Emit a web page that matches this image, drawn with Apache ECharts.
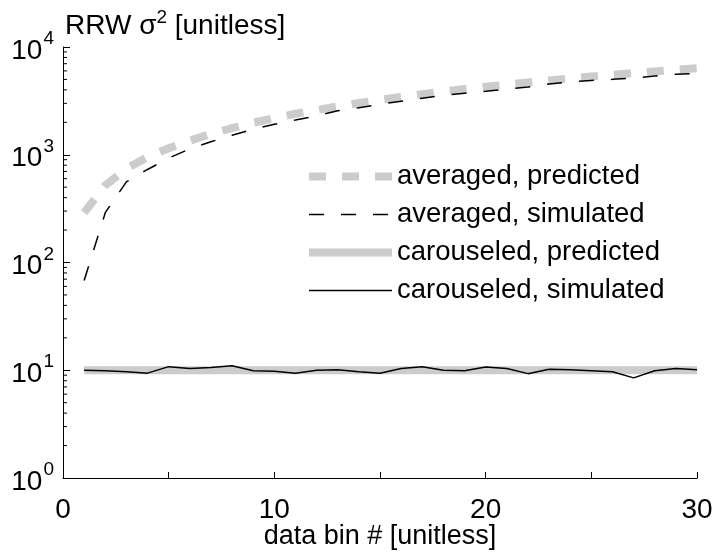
<!DOCTYPE html>
<html>
<head>
<meta charset="utf-8">
<script src="https://cdn.jsdelivr.net/npm/echarts@6/dist/echarts.min.js"></script>
<style>
html,body{margin:0;padding:0;background:#fff;}
#chart{width:714px;height:552px;}
</style>
</head>
<body>
<div id="chart"></div>
<script>
// ---- data ----
const bins = [1,2,3,4,5,6,7,8,9,10,11,12,13,14,15,16,17,18,19,20,21,22,23,24,25,26,27,28,29,30];
const averagedPredicted = [290,520,740,950,1150,1350,1560,1770,1980,2190,2400,2600,2810,3020,3230,3440,3650,3860,4070,4270,4480,4690,4900,5110,5320,5520,5730,5940,6150,6350];
const averagedSimulated = [68,290,560,730,930,1135,1320,1520,1720,1920,2100,2300,2560,2730,2940,3140,3350,3560,3730,3880,4080,4250,4540,4750,4890,5010,5150,5380,5580,5700];
const carouseledPredicted = [10,10,10,10,10,10,10,10,10,10,10,10,10,10,10,10,10,10,10,10,10,10,10,10,10,10,10,10,10,10];
const carouseledSimulated = [10.0,9.9,9.7,9.4,10.8,10.4,10.6,11.0,9.9,9.8,9.4,10.0,10.1,9.7,9.4,10.4,10.8,10.0,9.9,10.7,10.4,9.3,10.2,10.1,9.9,9.7,8.5,9.9,10.4,10.1];
const seriesNames = ['averaged, predicted','averaged, simulated','carouseled, predicted','carouseled, simulated'];
const xTicks = [0,10,20,30];
const yMinorTicks = [2,3,4,5,6,7,8,9,20,30,40,50,60,70,80,90,200,300,400,500,600,700,800,900,2000,3000,4000,5000,6000,7000,8000,9000];

const FONT = 'Liberation Sans, Arial, Helvetica, sans-serif';
const pairs = (ys) => bins.map((b, i) => [b, ys[i]]);

const chart = echarts.init(document.getElementById('chart'), null, {renderer: 'canvas'});
const option = {
  animation: false,
  backgroundColor: '#ffffff',
  title: {
    text: 'RRW σ{sup|2} [unitless]',
    left: 60, top: 3,
    textStyle: {
      fontFamily: FONT, fontSize: 28, fontWeight: 'normal', color: '#000',
      rich: { sup: { fontFamily: FONT, fontSize: 19, color: '#000', padding: [0, 0, 18, 0] } }
    }
  },
  grid: { left: 63, right: 17, top: 47, bottom: 74, containLabel: false, outerBoundsMode: 'none' },
  legend: {
    orient: 'vertical',
    left: 305, top: 161, padding: 0,
    itemWidth: 83, itemHeight: 14, itemGap: 7,
    data: seriesNames,
    textStyle: { fontFamily: FONT, fontSize: 27.5, color: '#000', lineHeight: 31 },
    itemStyle: { opacity: 0, borderWidth: 0 },
    lineStyle: { width: 'inherit', type: 'inherit', color: 'inherit' },
    selectedMode: false
  },
  xAxis: {
    type: 'value', min: 0, max: 30, interval: 5,
    name: 'data bin # [unitless]', nameLocation: 'middle', nameGap: 45,
    nameMoveOverlap: false,
    nameTextStyle: { fontFamily: FONT, fontSize: 27, color: '#000', verticalAlign: 'top' },
    axisLine: { show: true, onZero: false, lineStyle: { color: '#000', width: 1 } },
    axisTick: { show: true, inside: true, length: 6, lineStyle: { color: '#000' } },
    axisLabel: {
      fontFamily: FONT, fontSize: 28, color: '#000', margin: 18,
      formatter: (v) => (xTicks.indexOf(v) >= 0 ? String(v) : '')
    },
    splitLine: { show: false }
  },
  yAxis: {
    type: 'log', logBase: 10, min: 1, max: 10000,
    axisLine: { show: true, lineStyle: { color: '#000', width: 1 } },
    axisTick: { show: true, inside: true, length: 7, lineStyle: { color: '#000' } },
    axisLabel: {
      margin: 9,
      formatter: (v) => '{b|10}{s|' + Math.round(Math.log10(v)) + '}',
      rich: {
        b: { fontFamily: FONT, fontSize: 28, color: '#000', padding: [8, 0, 0, 0] },
        s: { fontFamily: FONT, fontSize: 19, color: '#000', padding: [0, 0, 16, 1] }
      }
    },
    splitLine: { show: false },
    minorTick: { show: false }
  },
  series: [
    {
      name: seriesNames[0], type: 'line', data: pairs(averagedPredicted),
      showSymbol: false, symbol: 'none',
      itemStyle: { color: '#cccccc' },
      lineStyle: { color: '#cccccc', width: 8, type: [17, 16], cap: 'butt' },
      z: 2
    },
    {
      name: seriesNames[1], type: 'line', data: pairs(averagedSimulated),
      showSymbol: false, symbol: 'none',
      itemStyle: { color: '#000000' },
      lineStyle: { color: '#000000', width: 1.5, type: [15, 17] },
      z: 3
    },
    {
      name: seriesNames[2], type: 'line', data: pairs(carouseledPredicted),
      showSymbol: false, symbol: 'none',
      itemStyle: { color: '#cccccc' },
      lineStyle: { color: '#cccccc', width: 8, type: 'solid' },
      z: 2
    },
    {
      name: seriesNames[3], type: 'line', data: pairs(carouseledSimulated),
      showSymbol: false, symbol: 'none',
      itemStyle: { color: '#000000' },
      lineStyle: { color: '#000000', width: 1.5, type: 'solid' },
      z: 3
    },
    {
      name: 'minorTicks', type: 'custom', silent: true, clip: false,
      data: yMinorTicks.map(v => [0, v]),
      renderItem: (params, api) => {
        const p = api.coord([0, api.value(1)]);
        return {
          type: 'line',
          shape: { x1: p[0], y1: p[1], x2: p[0] + 4, y2: p[1] },
          style: { stroke: '#000', lineWidth: 1 }
        };
      },
      z: 4
    }
  ]
};
chart.setOption(option);
</script>
</body>
</html>
